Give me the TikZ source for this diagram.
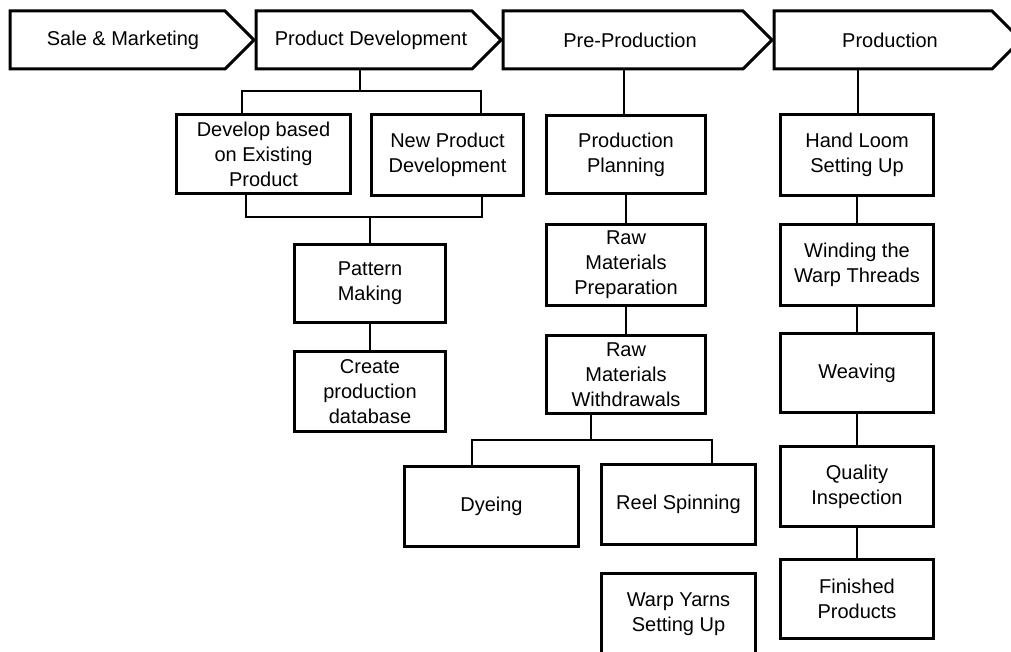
\documentclass[tikz,border=0pt]{standalone}
\usepackage{fontspec}
\setmainfont{Liberation Sans}
\begin{document}
\begin{tikzpicture}[x=1pt,y=-1pt,
  every node/.style={font=\fontsize{20}{25}\selectfont},
  box/.style={draw=black, line width=3pt, align=center, inner sep=2pt, fill=white},
  chev/.style={draw=black, line width=3pt, line join=miter, fill=white},
  conn/.style={draw=black, line width=2pt},
  lbl/.style={inner sep=0pt}]
\useasboundingbox (0,0) rectangle (1011,652);
\clip (0,0) rectangle (1011,652);
\fill[white] (0,0) rectangle (1011,652);

% chevrons
\draw[chev] (10,11) -- (225,11) -- (254,40) -- (225,69) -- (10,69) -- cycle;
\draw[chev] (256,11) -- (472,11) -- (501,40) -- (472,69) -- (256,69) -- cycle;
\draw[chev] (503,11) -- (743,11) -- (772,40) -- (743,69) -- (503,69) -- cycle;
\draw[chev] (774,11) -- (992,11) -- (1021,40) -- (992,69) -- (774,69) -- cycle;
\node[lbl] (c1) at (123,40) {Sale \& Marketing};
\node[lbl] (c2) at (371,40) {Product Development};
\node[lbl] (c3) at (630,40) {Pre-Production};
\node[lbl] (c4) at (890,40) {Production};
\coordinate (c2b) at (360,70);
\coordinate (c3b) at (624,70);
\coordinate (c4b) at (858,70);

% Product development column
\node[box, minimum width=174, minimum height=79] (dev1) at (263.5,154) {Develop based\\on Existing\\Product};
\node[box, minimum width=152, minimum height=81] (npd) at (447.5,155) {New Product\\Development};
\node[box, minimum width=151, minimum height=78] (pat) at (370,283.5) {Pattern\\Making};
\node[box, minimum width=151, minimum height=80] (cdb) at (370,391.5) {Create\\production\\database};

% Pre-production column
\node[box, minimum width=159, minimum height=78] (pp) at (626,154.5) {Production\\Planning};
\node[box, minimum width=159, minimum height=81] (rmp) at (626,265) {Raw\\Materials\\Preparation};
\node[box, minimum width=159, minimum height=78] (rmw) at (626,374.5) {Raw\\Materials\\Withdrawals};
\node[box, minimum width=174, minimum height=80] (dye) at (491.5,506.5) {Dyeing};
\node[box, minimum width=154, minimum height=80] (reel) at (678.5,504.5) {Reel Spinning};
\node[box, minimum width=154, minimum height=81] (warp) at (678.5,614) {Warp Yarns\\Setting Up};

% Production column
\node[box, minimum width=153, minimum height=81] (hl) at (857,155) {Hand Loom\\Setting Up};
\node[box, minimum width=153, minimum height=81] (wind) at (857,265) {Winding the\\Warp Threads};
\node[box, minimum width=153, minimum height=79] (weave) at (857,373) {Weaving};
\node[box, minimum width=153, minimum height=80] (qi) at (857,486.5) {Quality\\Inspection};
\node[box, minimum width=153, minimum height=79] (fp) at (857,599) {Finished\\Products};

% connectors: product development
\draw[conn] (c2b) -- ++(0,20);
\draw[conn] ([xshift=-21.5pt]dev1.north) -- ++(0,-22) -| ([xshift=33.5pt]npd.north);
\draw[conn] ([xshift=-17.5pt]dev1.south) -- ++(0,22) -| ([xshift=34.5pt]npd.south);
\draw[conn] (pat.north) -- ++(0,-26);
\draw[conn] (pat.south) -- (cdb.north);

% connectors: pre-production
\draw[conn] (c3b) -- (c3b |- pp.north);
\draw[conn] (pp.south) -- (rmp.north);
\draw[conn] (rmp.south) -- (rmw.north);
\draw[conn] ([xshift=-35pt]rmw.south) -- ++(0,25);
\draw[conn] ([xshift=-19.5pt]dye.north) -- ++(0,-25) -| ([xshift=33.5pt]reel.north);

% connectors: production
\draw[conn] (c4b) -- (c4b |- hl.north);
\draw[conn] (hl.south) -- (wind.north);
\draw[conn] (wind.south) -- (weave.north);
\draw[conn] (weave.south) -- (qi.north);
\draw[conn] (qi.south) -- (fp.north);
\end{tikzpicture}
\end{document}
